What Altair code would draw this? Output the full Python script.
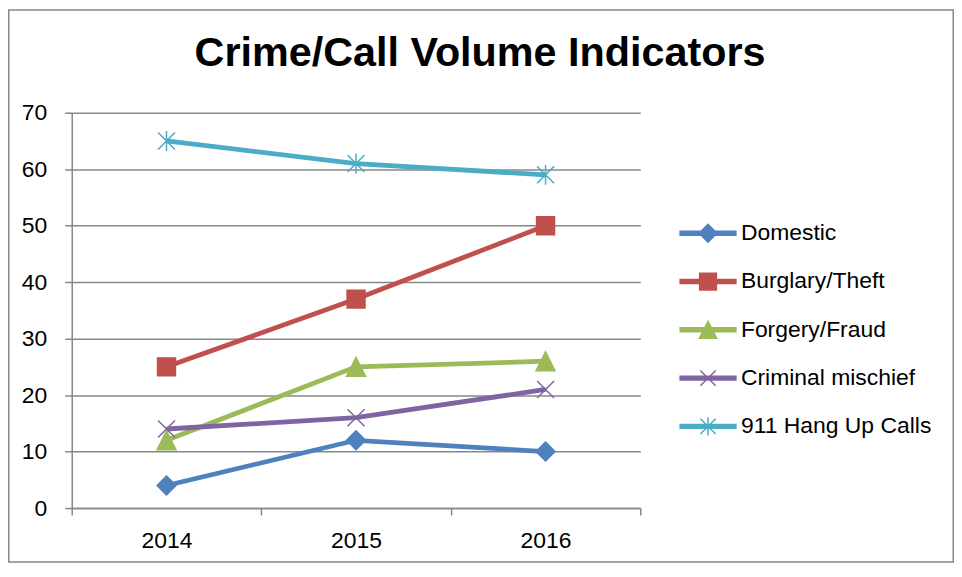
import altair as alt
import pandas as pd

years = ["2014", "2015", "2016"]
series = ["Domestic", "Burglary/Theft", "Forgery/Fraud", "Criminal mischief", "911 Hang Up Calls"]
domestic = [4, 12, 10]
burglary = [25, 37, 50]
forgery = [12, 25, 26]
mischief = [14, 16, 21]
hangup = [65, 61, 59]
colors = ["#4F81BD", "#C0504D", "#9BBB59", "#8064A2", "#4BACC6"]
title_text = "Crime/Call Volume Indicators"

values_by_series = [domestic, burglary, forgery, mischief, hangup]
rows = []
for name, vals in zip(series, values_by_series):
    for yr, v in zip(years, vals):
        rows.append({"year": yr, "value": v, "series": name})
df = pd.DataFrame(rows)

# marker shapes for plotted points (unit paths)
plot_shapes = [
    "M0,-0.95L0.95,0L0,0.95L-0.95,0Z",
    "M-0.9,-0.9L0.9,-0.9L0.9,0.9L-0.9,0.9Z",
    "M0,-0.95L0.95,0.95L-0.95,0.95Z",
    "M-0.85,-0.85L0.85,0.85M-0.85,0.85L0.85,-0.85",
    "M-0.85,-0.85L0.85,0.85M-0.85,0.85L0.85,-0.85M0,-1L0,1",
]
bar = "M-2,-0.14L2,-0.14L2,0.14L-2,0.14Z"
legend_shapes = [
    bar + "M0,-0.64L0.64,0L0,0.64L-0.64,0Z",
    bar + "M-0.6,-0.6L0.6,-0.6L0.6,0.6L-0.6,0.6Z",
    bar + "M0,-0.6L0.62,0.6L-0.62,0.6Z",
    bar + "M-0.55,-0.55L0.55,0.55M-0.55,0.55L0.55,-0.55",
    bar + "M-0.55,-0.55L0.55,0.55M-0.55,0.55L0.55,-0.55M0,-0.65L0,0.65",
]

FONT = "Liberation Sans"
GRAY = "#878787"

x_enc = alt.X(
    "year:N",
    sort=years,
    scale=alt.Scale(type="band", domain=years, paddingInner=0, paddingOuter=0),
    axis=alt.Axis(
        title=None, labelAngle=0, tickBand="extent", grid=False, tickSize=7,
        labelPadding=15, labelFont=FONT, labelFontSize=23, labelColor="#000000",
        domainColor=GRAY, domainWidth=1.5, tickColor=GRAY, tickWidth=1.5,
    ),
)
y_enc = alt.Y(
    "value:Q",
    scale=alt.Scale(domain=[0, 70], nice=False),
    axis=alt.Axis(
        title=None, values=[0, 10, 20, 30, 40, 50, 60, 70], grid=True,
        gridColor=GRAY, gridWidth=1.5, tickSize=7, labelPadding=18,
        labelFont=FONT, labelFontSize=23, labelColor="#000000",
        domainColor=GRAY, domainWidth=1.5, tickColor=GRAY, tickWidth=1.5,
    ),
)
col_scale = alt.Scale(domain=series, range=colors)

lines = alt.Chart(df).mark_line(strokeWidth=4.8).encode(
    x=x_enc, y=y_enc,
    color=alt.Color("series:N", scale=col_scale, legend=None),
)

points = alt.Chart(df).mark_point(filled=True, strokeWidth=1.5, size=400, opacity=1).encode(
    x=x_enc, y=y_enc,
    color=alt.Color("series:N", scale=col_scale, legend=None),
    stroke=alt.Stroke("series:N", scale=col_scale, legend=None),
    shape=alt.Shape("series:N", scale=alt.Scale(domain=series, range=plot_shapes), legend=None),
)

leg = alt.Legend(
    title=None, orient="none", legendX=624, legendY=106, symbolSize=784,
    labelOffset=18, rowPadding=21.5, padding=0, labelFont=FONT, labelFontSize=23,
    labelColor="#000000", symbolStrokeWidth=1.5, labelLimit=400,
)
legend_layer = alt.Chart(df).transform_filter("false").mark_point(
    filled=True, strokeWidth=1.5, opacity=1
).encode(
    x=x_enc, y=y_enc,
    color=alt.Color("series:N", scale=col_scale, legend=leg, sort=series),
    stroke=alt.Stroke("series:N", scale=col_scale, legend=leg, sort=series),
    shape=alt.Shape("series:N", scale=alt.Scale(domain=series, range=legend_shapes), legend=leg, sort=series),
)

frame = alt.Chart(pd.DataFrame({"a": [0]})).mark_rect(
    fill="#ffffff", fillOpacity=0, stroke=GRAY, strokeWidth=1.5
).encode(
    x=alt.value(-63.25), x2=alt.value(885.25), y=alt.value(-103.25), y2=alt.value(451.25)
)

title = alt.Chart(pd.DataFrame({"t": [title_text]})).mark_text(
    font=FONT, fontSize=41.5, fontWeight="bold", color="#000000",
    align="center", baseline="alphabetic",
).encode(text="t:N", x=alt.value(410), y=alt.value(-47))

chart = alt.layer(frame, lines, points, legend_layer, title).resolve_scale(
    color="independent", stroke="independent", shape="independent"
).resolve_legend(
    color="independent", stroke="independent", shape="independent"
).properties(
    width=571, height=397,
    autosize=alt.AutoSizeParams(type="none"),
    padding={"left": 64, "top": 104, "right": 315, "bottom": 55},
).configure_view(stroke=None)

chart.save("out.html", embed_options={"renderer": "svg", "actions": False})
